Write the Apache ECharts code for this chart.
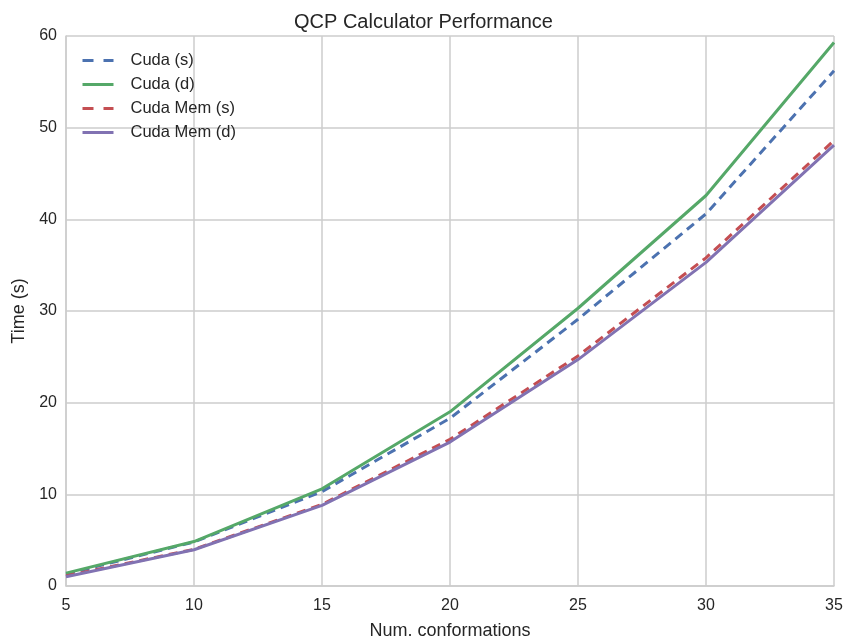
<!DOCTYPE html>
<html><head><meta charset="utf-8">
<script src="https://cdn.jsdelivr.net/npm/echarts@6/dist/echarts.min.js"></script>
<style>html,body{margin:0;padding:0;background:#fff}#c{width:847px;height:640px}</style>
</head><body><div id="c"></div>
<script>
const conformations = [5, 10, 15, 20, 25, 30, 35];
const cudaS = [1.3, 4.8, 10.3, 18.3, 29.1, 40.6, 56.2];
const cudaD = [1.4, 4.85, 10.6, 19.0, 30.3, 42.6, 59.3];
const cudaMemS = [1.1, 4.0, 8.9, 16.0, 25.1, 35.8, 48.6];
const cudaMemD = [1.0, 3.95, 8.8, 15.7, 24.7, 35.3, 48.1];
const seriesNames = ['Cuda (s)', 'Cuda (d)', 'Cuda Mem (s)', 'Cuda Mem (d)'];
const xTicks = [5, 10, 15, 20, 25, 30, 35];
const yTicks = [0, 10, 20, 30, 40, 50, 60];

const font = 'Liberation Sans, Arial, sans-serif';
const colors = ['#4C72B0', '#55A868', '#C44E52', '#8172B2'];
const dashed = [true, false, true, false];
const values = [cudaS, cudaD, cudaMemS, cudaMemD];

const chart = echarts.init(document.getElementById('c'), null, {renderer: 'canvas'});
chart.setOption({
  animation: false,
  backgroundColor: '#ffffff',
  title: {
    text: 'QCP Calculator Performance', left: 'center', top: 7,
    textStyle: {fontFamily: font, fontSize: 20, fontWeight: 'normal', color: '#262626'}
  },
  legend: {
    orient: 'vertical', left: 76, top: 47, itemWidth: 31, itemHeight: 14, itemGap: 7,
    data: seriesNames.map((n, i) => ({
      name: n,
      lineStyle: {color: colors[i], width: 3, type: dashed[i] ? [11, 10] : 'solid'}
    })),
    itemStyle: {opacity: 0},
    textStyle: {fontFamily: font, fontSize: 16.5, color: '#262626', padding: [0, 0, 0, 12]}
  },
  grid: {left: 66, right: 13, top: 36, bottom: 54, outerBoundsMode: 'none', containLabel: false},
  xAxis: {
    type: 'value', min: xTicks[0], max: xTicks[xTicks.length - 1], interval: 5,
    name: 'Num. conformations', nameLocation: 'middle', nameGap: 36,
    nameTextStyle: {fontFamily: font, fontSize: 18, color: '#262626'},
    axisLine: {show: true, lineStyle: {color: '#cccccc', width: 1.5}},
    axisTick: {show: false},
    axisLabel: {fontFamily: font, fontSize: 16, color: '#262626', margin: 12},
    splitLine: {show: true, lineStyle: {color: '#cccccc', width: 1.5}}
  },
  yAxis: {
    type: 'value', min: yTicks[0], max: yTicks[yTicks.length - 1], interval: 10,
    name: 'Time (s)', nameLocation: 'middle', nameGap: 35,
    nameTextStyle: {fontFamily: font, fontSize: 18, color: '#262626'},
    axisLine: {show: true, lineStyle: {color: '#cccccc', width: 1.5}},
    axisTick: {show: false},
    axisLabel: {fontFamily: font, fontSize: 16, color: '#262626', margin: 9},
    splitLine: {show: true, lineStyle: {color: '#cccccc', width: 1.5}}
  },
  series: seriesNames.map((n, i) => ({
    name: n, type: 'line', symbol: 'none', showSymbol: false,
    data: conformations.map((x, j) => [x, values[i][j]]),
    itemStyle: {color: colors[i]},
    lineStyle: {color: colors[i], width: 3, type: dashed[i] ? [9, 6] : 'solid'},
    z: 2 + i
  }))
});
</script></body></html>
